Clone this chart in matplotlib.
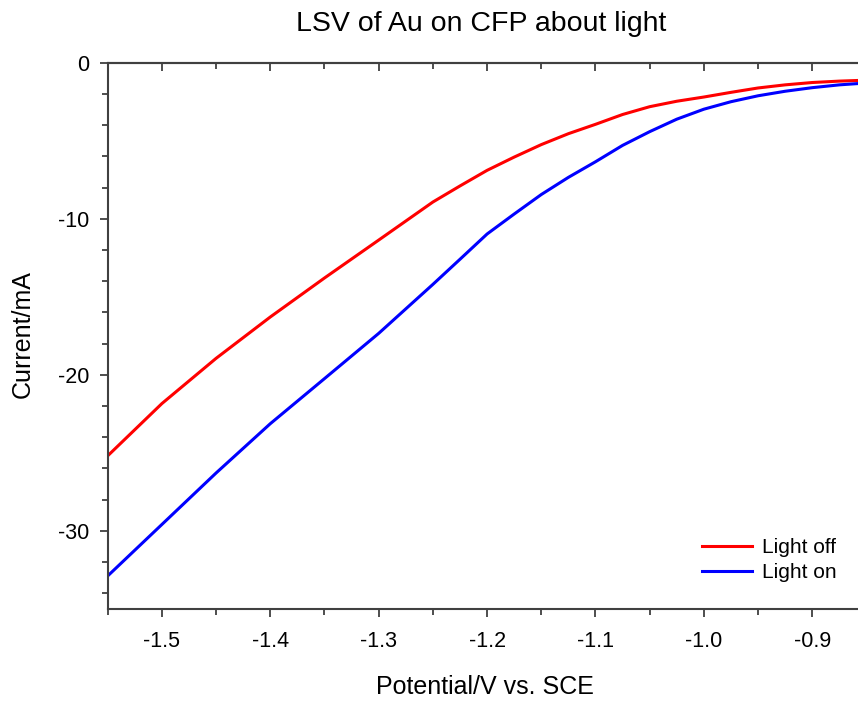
import numpy as np
import matplotlib
matplotlib.use("Agg")
import matplotlib.pyplot as plt
from matplotlib.ticker import MultipleLocator

plt.rcParams['font.family'] = ['Liberation Sans', 'DejaVu Sans']

# potential (V vs. SCE) and current (mA)
potential = [-1.55, -1.50, -1.45, -1.40, -1.35, -1.30, -1.25, -1.225, -1.20,
             -1.175, -1.15, -1.125, -1.10, -1.075, -1.05, -1.025, -1.00,
             -0.975, -0.95, -0.925, -0.90, -0.875, -0.85]
light_off = [-25.2, -21.85, -18.95, -16.3, -13.8, -11.37, -8.93, -7.9, -6.9,
             -6.05, -5.25, -4.55, -3.95, -3.32, -2.82, -2.47, -2.2,
             -1.9, -1.62, -1.42, -1.27, -1.18, -1.12]
light_on = [-32.9, -29.6, -26.3, -23.14, -20.25, -17.35, -14.21, -12.6, -10.98,
            -9.7, -8.45, -7.35, -6.35, -5.3, -4.42, -3.62, -2.98,
            -2.5, -2.12, -1.83, -1.6, -1.42, -1.3]

W, H = 858, 702
fig = plt.figure(figsize=(W / 100, H / 100), dpi=100)
ax = fig.add_axes([107.7 / W, 1 - 608.7 / H, (866.5 - 107.7) / W, (608.7 - 62.7) / H])

ax.plot(potential, light_off, color='#ff0000', lw=2.2, label='Light off')
ax.plot(potential, light_on, color='#0000ff', lw=2.2, label='Light on')

ax.set_xlim(-1.55, -0.85)
ax.set_ylim(-35, 0)

ax.xaxis.set_major_locator(MultipleLocator(0.1))
ax.xaxis.set_minor_locator(MultipleLocator(0.05))
ax.yaxis.set_major_locator(MultipleLocator(10))
ax.yaxis.set_minor_locator(MultipleLocator(2))
ax.xaxis.set_major_formatter(lambda v, p: f"{v:.1f}")
ax.yaxis.set_major_formatter(lambda v, p: f"{v:.0f}")

spine_c = '#404040'
for s in ['left', 'bottom', 'top']:
    ax.spines[s].set_color(spine_c)
    ax.spines[s].set_linewidth(1.5)
ax.spines['right'].set_visible(False)

ax.tick_params(axis='both', which='major', direction='out', length=5.5, width=1.3,
               color=spine_c, labelsize=15.5, labelcolor='black')
ax.tick_params(axis='both', which='minor', direction='out', length=4, width=1.3,
               color=spine_c)
ax.tick_params(axis='y', which='major', pad=8)
ax.tick_params(axis='x', which='major', pad=10.5)

# inward ticks along the top edge
top = ax.secondary_xaxis('top')
top.xaxis.set_major_locator(MultipleLocator(0.1))
top.xaxis.set_minor_locator(MultipleLocator(0.05))
top.tick_params(which='major', direction='in', length=5.5, width=1.3, color=spine_c,
                labeltop=False)
top.tick_params(which='minor', direction='in', length=4, width=1.3, color=spine_c)
top.spines['top'].set_color(spine_c)
top.spines['top'].set_linewidth(1.5)

fig.text(481 / W, 1 - 24 / H, 'LSV of Au on CFP about light', fontsize=20.5,
         ha='center', va='center')
fig.text(485 / W, 1 - 687 / H, 'Potential/V vs. SCE', fontsize=18,
         ha='center', va='center')
fig.text(23 / W, 1 - 334 / H, 'Current/mA', fontsize=18, rotation=90,
         ha='center', va='center')

fig.legend(loc='center left', bbox_to_anchor=(701.7 / W, 1 - 560 / H),
           frameon=False, fontsize=15, handlelength=2.4, handletextpad=0.5,
           labelspacing=0.3, borderpad=0, borderaxespad=0)

fig.savefig('out.png', dpi=100)
